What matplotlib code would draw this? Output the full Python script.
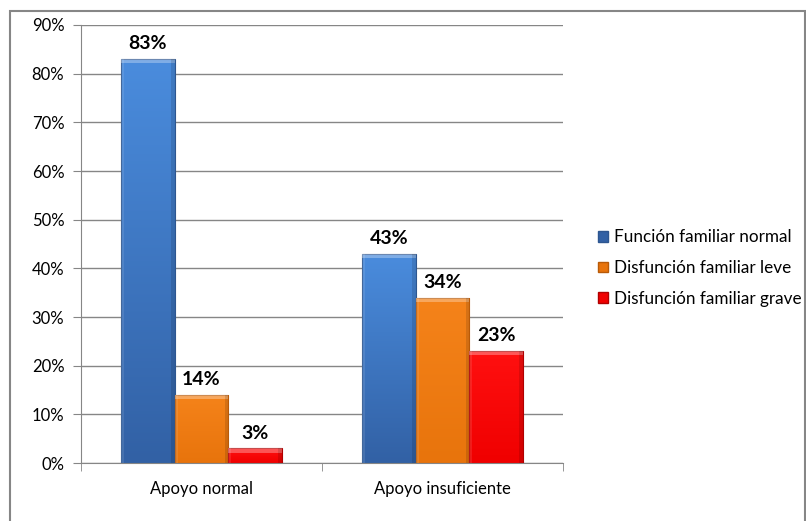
import numpy as np
import matplotlib.pyplot as plt
from matplotlib.patches import Rectangle
from matplotlib.colors import LinearSegmentedColormap

plt.rcParams['font.family'] = ['Lato', 'DejaVu Sans']

categories = ['Apoyo normal', 'Apoyo insuficiente']
series = ['Función familiar normal', 'Disfunción familiar leve', 'Disfunción familiar grave']
normal = [83, 43]
leve = [14, 34]
grave = [3, 23]
yticks = [0, 10, 20, 30, 40, 50, 60, 70, 80, 90]

# (top colour, bottom colour, edge) for each series
shades = [('#4A8CDD', '#3261A5', '#2D5690'),
          ('#F5831A', '#E8740C', '#B85A08'),
          ('#FF1010', '#F00000', '#B00000')]


def draw_bar(ax, x, w, h, top, bottom, edge):
    rect = Rectangle((x, 0), w, h, facecolor='none', edgecolor=edge, lw=0.8, zorder=3)
    ax.add_patch(rect)
    cmap = LinearSegmentedColormap.from_list('g', [bottom, top])
    grad = np.linspace(0, 1, 100).reshape(-1, 1)
    img = ax.imshow(grad * np.ones((1, 20)), cmap=cmap, origin='lower', aspect='auto',
                    extent=(x, x + w, 0, h), zorder=2, interpolation='bicubic')
    img.set_clip_path(rect)
    # bevel: light band on top, shade on the right side
    ax.add_patch(Rectangle((x, h - 0.9), w, 0.9, facecolor='white', alpha=0.3, lw=0, zorder=3))
    ax.add_patch(Rectangle((x, 0), w * 0.06, h, facecolor='white', alpha=0.1, lw=0, zorder=3))
    ax.add_patch(Rectangle((x + w * 0.93, 0), w * 0.07, h, facecolor='black', alpha=0.12, lw=0, zorder=3))


fig = plt.figure(figsize=(8.06, 5.21), dpi=100)
ax = fig.add_axes([81 / 806, 58 / 521, 482 / 806, 438 / 521])

fig.patches.append(Rectangle((10 / 806, -0.05), 795 / 806, 1.05 - 11 / 521,
                             transform=fig.transFigure, facecolor='none',
                             edgecolor='#868686', lw=1.5))

x = np.arange(len(categories))
w = 0.222
for i, vals in enumerate([normal, leve, grave]):
    top, bottom, edge = shades[i]
    for j, v in enumerate(vals):
        left = x[j] + (i - 1.5) * w
        draw_bar(ax, left, w, v, top, bottom, edge)
        ax.text(left + w / 2, v + 1.4, f'{v}%', ha='center', va='bottom',
                fontsize=14, fontweight='bold', color='black', zorder=4)

ax.set_xlim(-0.5, 1.5)
ax.set_ylim(0, 90)
ax.set_yticks(yticks)
ax.set_yticklabels([f'{t}%' for t in yticks], fontsize=12)
ax.yaxis.grid(True, color='#868686', lw=1)
ax.set_axisbelow(True)
ax.set_xticks(x)
ax.set_xticklabels(categories, fontsize=12)
ax.set_xticks([-0.5, 0.5, 1.5], minor=True)
ax.tick_params(axis='x', which='major', length=0, pad=13)
ax.tick_params(axis='x', which='minor', length=6, color='#868686')
ax.tick_params(axis='y', length=6, color='#868686', pad=6)
for s in ['top', 'right']:
    ax.spines[s].set_visible(False)
for s in ['left', 'bottom']:
    ax.spines[s].set_color('#868686')

handles = [Rectangle((0, 0), 1, 1, facecolor=c[1], edgecolor=c[2]) for c in shades]
fig.legend(handles, series, loc='center left', bbox_to_anchor=(586 / 806, 1 - 268 / 521),
           frameon=False, fontsize=12.3, handlelength=0.6, handleheight=0.6,
           handletextpad=0.35, labelspacing=0.85, borderpad=0.2)

fig.savefig('out.png', dpi=100)
